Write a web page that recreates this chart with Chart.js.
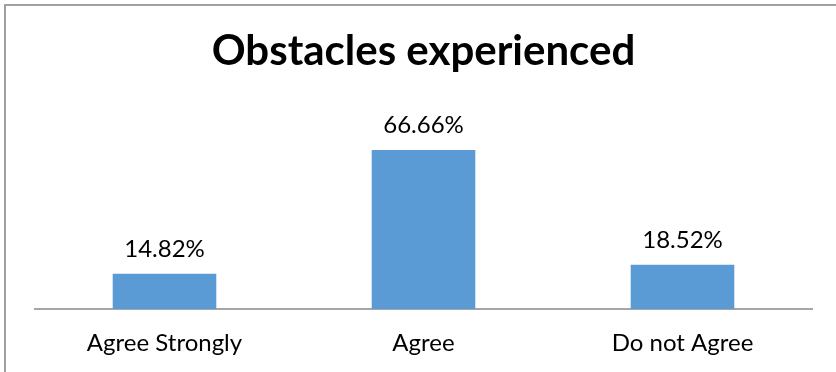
<!DOCTYPE html>
<html>
<head>
<meta charset="utf-8">
<script src="https://cdn.jsdelivr.net/npm/chart.js@4/dist/chart.umd.min.js"></script>
<style>
html,body{margin:0;padding:0;background:#fff;}
#wrap{position:relative;width:836px;height:372px;}
</style>
</head>
<body>
<div id="wrap"><canvas id="c" width="836" height="372"></canvas></div>
<script>
const categories = ["Agree Strongly", "Agree", "Do not Agree"];
const values = [14.82, 66.66, 18.52];
const valueLabels = ["14.82%", "66.66%", "18.52%"];
const chartTitle = "Obstacles experienced";

const frame = {
  id: 'frame',
  beforeDraw(chart) {
    const ctx = chart.ctx;
    ctx.save();
    ctx.fillStyle = '#fff';
    ctx.fillRect(0, 0, chart.width, chart.height);
    ctx.strokeStyle = '#A0A0A0';
    ctx.lineWidth = 2;
    ctx.beginPath();
    ctx.moveTo(5, chart.height);
    ctx.lineTo(5, 5);
    ctx.lineTo(chart.width, 5);
    ctx.stroke();
    ctx.restore();
  }
};

const dataLabels = {
  id: 'dataLabels',
  afterDatasetsDraw(chart) {
    const ctx = chart.ctx;
    const meta = chart.getDatasetMeta(0);
    ctx.save();
    ctx.font = '24px Lato';
    ctx.fillStyle = '#000';
    ctx.textAlign = 'center';
    ctx.textBaseline = 'alphabetic';
    meta.data.forEach((bar, i) => {
      ctx.fillText(valueLabels[i], bar.x, bar.y - 17);
    });
    ctx.restore();
  }
};

new Chart(document.getElementById('c'), {
  type: 'bar',
  data: {
    labels: categories,
    datasets: [{
      data: values,
      backgroundColor: '#5B9BD5',
      borderWidth: 0,
      categoryPercentage: 1,
      barPercentage: 0.4
    }]
  },
  options: {
    responsive: false,
    animation: false,
    layout: { padding: { left: 35, right: 24, top: 26, bottom: 13 } },
    plugins: {
      legend: { display: false },
      tooltip: { enabled: false },
      title: {
        display: true,
        text: chartTitle,
        color: '#000',
        font: { family: 'Lato', size: 42, weight: 'bold' },
        padding: { top: 0, bottom: 53.6 }
      }
    },
    scales: {
      x: {
        grid: { display: false, drawTicks: false },
        border: { display: true, color: '#A6A6A6', width: 2 },
        ticks: { color: '#000', font: { family: 'Lato', size: 24 }, padding: 20, maxRotation: 0, autoSkip: false },
        afterFit(scale) { scale.height = 50; }
      },
      y: {
        display: false,
        min: 0,
        max: 75
      }
    }
  },
  plugins: [frame, dataLabels]
});
</script>
</body>
</html>
